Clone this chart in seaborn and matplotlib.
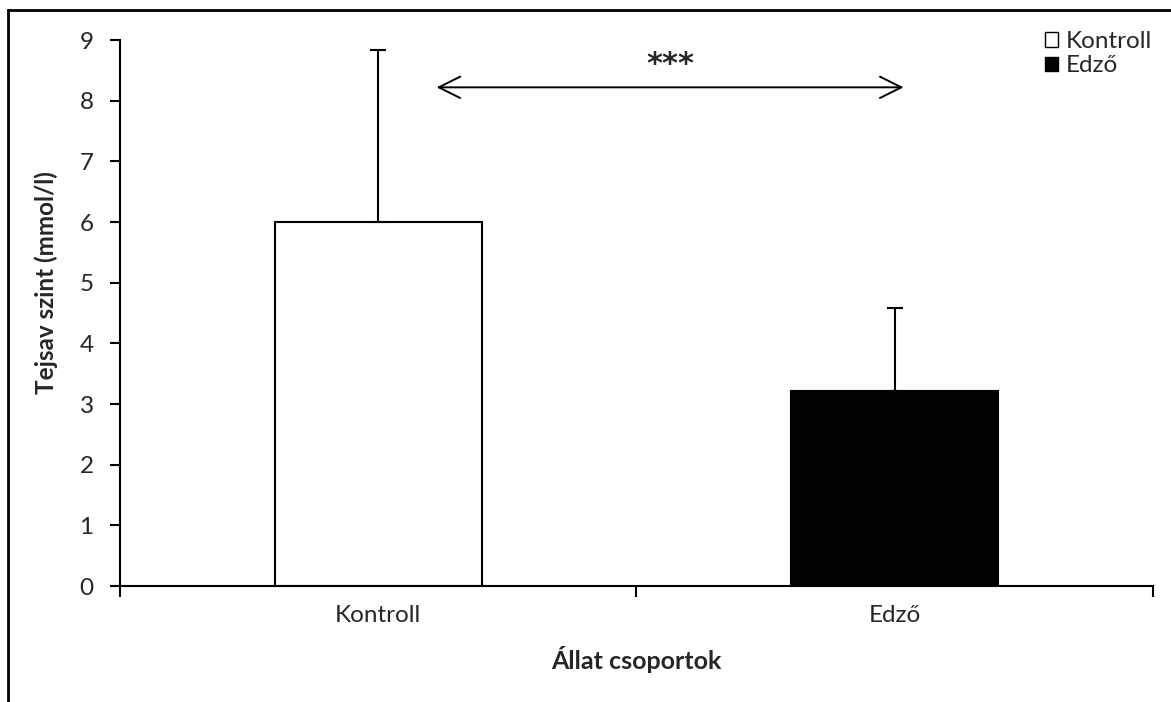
import matplotlib
matplotlib.use("Agg")
import matplotlib.pyplot as plt
import matplotlib.patches as mpatches
import seaborn as sns
import pandas as pd

groups = ["Kontroll", "Edző"]
means = [6.0, 3.21]
sd_upper = [2.83, 1.37]
bar_colors = ["white", "black"]
yticks = list(range(0, 10))
sig_label = "***"
sig_level = 8.22

sns.set_theme(style="white")
plt.rcParams["font.family"] = ["Lato", "DejaVu Sans"]

df = pd.DataFrame({"group": groups, "mean": means})

fig = plt.figure(figsize=(11.71, 7.02), dpi=100)
ax = fig.add_axes([0.1025, 0.1652, 0.8821, 0.7778])

sns.barplot(data=df, x="group", y="mean", hue="group", palette=bar_colors,
            edgecolor="black", linewidth=1.5, width=0.4, legend=False,
            errorbar=None, ax=ax)

# upper-only error bars
ax.errorbar(range(len(groups)), means, yerr=[[0] * len(groups), sd_upper],
            fmt="none", ecolor="black", elinewidth=1.5, capsize=6, capthick=1.5)

ax.set_xlim(-0.5, 1.5)
ax.set_ylim(0, 9)
ax.set_yticks(yticks)
ax.set_xticks([0, 1])
ax.set_xticklabels(groups)

# category boundary ticks on the x axis
ax.set_xticks([-0.5, 0.5, 1.5], minor=True)
ax.tick_params(axis="x", which="major", length=0, labelsize=17.5, pad=14)
ax.tick_params(axis="x", which="minor", length=8, width=1.5, direction="out", color="black")
ax.tick_params(axis="y", length=7, width=1.5, direction="out", color="black",
               labelsize=17.5, pad=12)
ax.yaxis.set_ticks_position("left")
ax.xaxis.set_ticks_position("bottom")

for side in ["top", "right"]:
    ax.spines[side].set_visible(False)
for side in ["left", "bottom"]:
    ax.spines[side].set_color("black")
    ax.spines[side].set_linewidth(1.5)

ax.set_xlabel("Állat csoportok", fontsize=18, fontweight="bold", labelpad=14)
ax.set_ylabel("Tejsav szint (mmol/l)", fontsize=17.5, fontweight="bold")
ax.yaxis.set_label_coords(-0.06, 0.555)

# significance arrow between the groups
ax.annotate("", xy=(0.113, sig_level), xytext=(1.017, sig_level),
            arrowprops=dict(arrowstyle="<->,head_length=0.7,head_width=0.35",
                            color="black", lw=1.4, mutation_scale=22,
                            shrinkA=0, shrinkB=0))
ax.text(0.565, 8.6, sig_label, ha="center", va="center", fontsize=22,
        fontweight="bold", family="DejaVu Sans")

handles = [mpatches.Patch(facecolor=c, edgecolor="black", linewidth=1.0, label=g)
           for g, c in zip(groups, bar_colors)]
fig.legend(handles=handles, loc="upper right", bbox_to_anchor=(0.992, 0.97),
           frameon=False, fontsize=17.5, handlelength=0.55, handleheight=0.55,
           handletextpad=0.3, labelspacing=0.15, borderaxespad=0)

# outer chart frame
fig.patches.append(mpatches.Rectangle((0.007, -0.1), 1.2, 1.086, transform=fig.transFigure,
                                      fill=False, edgecolor="black", linewidth=2.0))

fig.savefig("out.png", dpi=100)
